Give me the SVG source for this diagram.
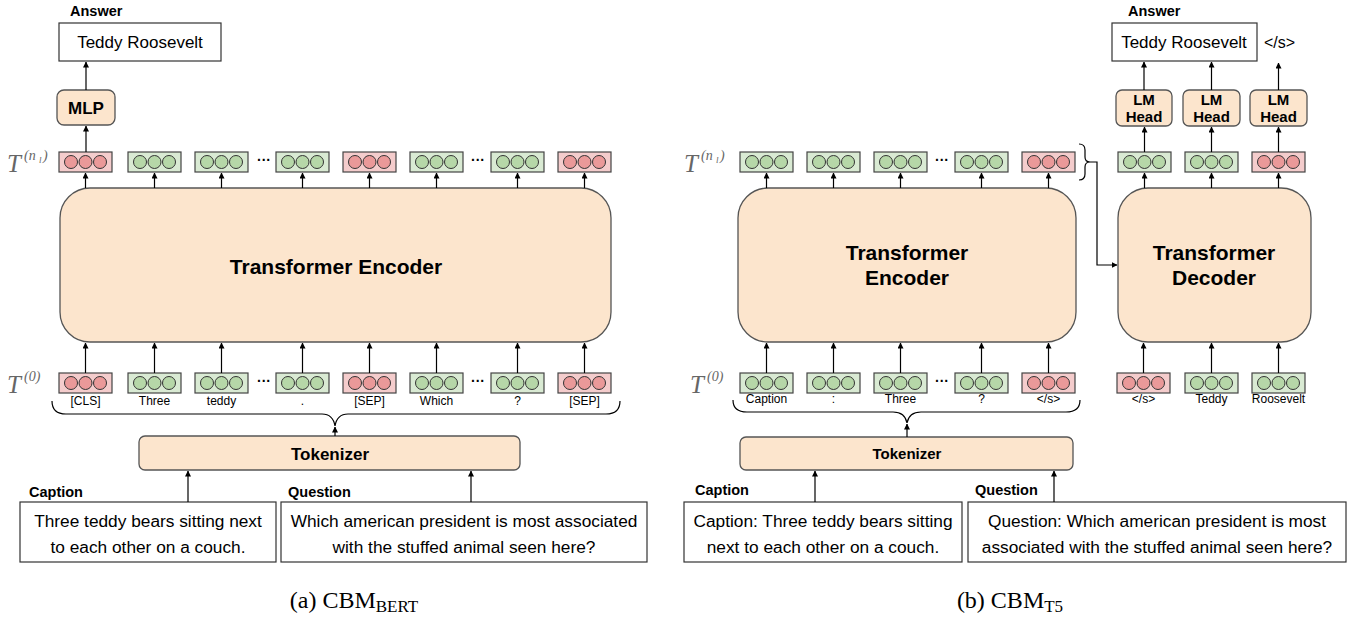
<svg xmlns="http://www.w3.org/2000/svg" width="1357" height="620" viewBox="0 0 1357 620">
<defs>
<marker id="ah" viewBox="0 0 6 6" refX="5.5" refY="3" markerWidth="6" markerHeight="6" orient="auto" markerUnits="userSpaceOnUse">
<path d="M0,0 L6,3 L0,6 z" fill="#000"/>
</marker>
<g id="tokG"><rect x="0" y="0" width="53" height="20" fill="#d9ead3" stroke="#444" stroke-width="1.2"/><circle cx="12" cy="10" r="6.5" fill="#b6d7a8" stroke="#333" stroke-width="1"/><circle cx="26.5" cy="10" r="6.5" fill="#b6d7a8" stroke="#333" stroke-width="1"/><circle cx="41" cy="10" r="6.5" fill="#b6d7a8" stroke="#333" stroke-width="1"/></g>
<g id="tokR"><rect x="0" y="0" width="53" height="20" fill="#f4cccc" stroke="#444" stroke-width="1.2"/><circle cx="12" cy="10" r="6.5" fill="#ea9999" stroke="#333" stroke-width="1"/><circle cx="26.5" cy="10" r="6.5" fill="#ea9999" stroke="#333" stroke-width="1"/><circle cx="41" cy="10" r="6.5" fill="#ea9999" stroke="#333" stroke-width="1"/></g>
</defs>
<style>
.peach{fill:#fce5cd;stroke:#555;stroke-width:1.3}
.box{fill:#fff;stroke:#333;stroke-width:1.2}
.b{font-family:"Liberation Sans",Arial,sans-serif;font-weight:bold;fill:#000}
.t{font-family:"Liberation Sans",Arial,sans-serif;fill:#000}
.m{font-family:"Liberation Serif","Times New Roman",serif;font-style:italic;fill:#666}
.cap{font-family:"Liberation Serif","Times New Roman",serif;fill:#000;font-size:24px}
.ar{stroke:#000;stroke-width:1.2;fill:none;marker-end:url(#ah)}
.ln{stroke:#000;stroke-width:1.2;fill:none}
</style>
<rect width="1357" height="620" fill="#fff"/>

<!-- ================= Left panel ================= -->
<g id="ans-label-a"><text class="b" x="70" y="16" font-size="14.5">Answer</text></g>
<g id="answer-a"><rect class="box" x="59" y="23" width="162" height="38"/><text class="t" x="140" y="48" font-size="17" text-anchor="middle">Teddy Roosevelt</text></g>
<g id="mlp"><rect class="peach" x="57" y="90" width="58" height="35" rx="7"/><text class="b" x="86" y="114" font-size="17" text-anchor="middle">MLP</text></g>

<g id="tnl-a"><text class="m" x="7" y="172" font-size="25">T</text><text class="m" x="24" y="160" font-size="14">(n</text><text class="m" x="39" y="163" font-size="9">l</text><text class="m" x="43" y="160" font-size="14">)</text></g>
<g id="top-tokens-a">
<use href="#tokR" x="59" y="152"/><use href="#tokG" x="128" y="152"/><use href="#tokG" x="195" y="152"/>
<text class="b" x="264" y="165" font-size="14" text-anchor="middle">···</text>
<use href="#tokG" x="276" y="152"/><use href="#tokR" x="343" y="152"/><use href="#tokG" x="410" y="152"/>
<text class="b" x="478" y="165" font-size="14" text-anchor="middle">···</text>
<use href="#tokG" x="491" y="152"/><use href="#tokR" x="558" y="152"/>
</g>
<g id="encoder-a"><rect class="peach" x="60" y="188" width="551" height="154" rx="30"/><text class="b" x="336" y="274" font-size="21" text-anchor="middle">Transformer Encoder</text></g>

<g id="t0-a"><text class="m" x="7" y="393" font-size="25">T</text><text class="m" x="24" y="381" font-size="14">(0)</text></g>
<g id="bot-tokens-a">
<use href="#tokR" x="59" y="373"/><use href="#tokG" x="128" y="373"/><use href="#tokG" x="195" y="373"/>
<text class="b" x="264" y="386" font-size="14" text-anchor="middle">···</text>
<use href="#tokG" x="276" y="373"/><use href="#tokR" x="343" y="373"/><use href="#tokG" x="410" y="373"/>
<text class="b" x="478" y="386" font-size="14" text-anchor="middle">···</text>
<use href="#tokG" x="491" y="373"/><use href="#tokR" x="558" y="373"/>
<g class="t" font-size="12" text-anchor="middle">
<text x="85.5" y="405">[CLS]</text><text x="154.5" y="405">Three</text><text x="221.5" y="405">teddy</text><text x="302.5" y="405">.</text><text x="369.5" y="405">[SEP]</text><text x="436.5" y="405">Which</text><text x="517.5" y="405">?</text><text x="584.5" y="405">[SEP]</text>
</g>
</g>
<g id="tokenizer-a"><rect class="peach" x="139" y="436" width="381" height="34" rx="6"/><text class="b" x="330" y="460" font-size="17" text-anchor="middle">Tokenizer</text></g>

<g id="caption-a"><text class="b" x="29" y="497" font-size="14.5">Caption</text><rect class="box" x="20" y="502" width="256" height="60"/><text class="t" x="148" y="527" font-size="17.3" text-anchor="middle">Three teddy bears sitting next</text><text class="t" x="148" y="553" font-size="17.3" text-anchor="middle">to each other on a couch.</text></g>
<g id="question-a"><text class="b" x="288" y="497" font-size="14.5">Question</text><rect class="box" x="281" y="502" width="366" height="60"/><text class="t" x="464" y="527" font-size="17.3" text-anchor="middle">Which american president is most associated</text><text class="t" x="464" y="553" font-size="17.3" text-anchor="middle">with the stuffed animal seen here?</text></g>

<text class="cap" x="354" y="608" text-anchor="middle">(a) CBM<tspan font-size="17" dy="4">BERT</tspan></text>

<!-- ================= Right panel ================= -->
<g id="ans-label-b"><text class="b" x="1128" y="16" font-size="14.5">Answer</text></g>
<g id="answer-b"><rect class="box" x="1112" y="23" width="145" height="38"/><text class="t" x="1184" y="48" font-size="17" text-anchor="middle">Teddy Roosevelt</text><text class="t" x="1264" y="48" font-size="16">&lt;/s&gt;</text></g>
<g id="lm1"><rect class="peach" x="1116" y="90" width="56" height="36" rx="6"/><text class="b" x="1144" y="105" font-size="15" text-anchor="middle">LM</text><text class="b" x="1144" y="122" font-size="15" text-anchor="middle">Head</text></g>
<g id="lm2"><rect class="peach" x="1183" y="90" width="57" height="36" rx="6"/><text class="b" x="1211.5" y="105" font-size="15" text-anchor="middle">LM</text><text class="b" x="1211.5" y="122" font-size="15" text-anchor="middle">Head</text></g>
<g id="lm3"><rect class="peach" x="1250" y="90" width="57" height="36" rx="6"/><text class="b" x="1278.5" y="105" font-size="15" text-anchor="middle">LM</text><text class="b" x="1278.5" y="122" font-size="15" text-anchor="middle">Head</text></g>

<g id="tnl-b"><text class="m" x="684" y="172" font-size="25">T</text><text class="m" x="701" y="160" font-size="14">(n</text><text class="m" x="716" y="163" font-size="9">l</text><text class="m" x="720" y="160" font-size="14">)</text></g>
<g id="top-tokens-b">
<use href="#tokG" x="740" y="152"/><use href="#tokG" x="807" y="152"/><use href="#tokG" x="874" y="152"/>
<text class="b" x="942" y="165" font-size="14" text-anchor="middle">···</text>
<use href="#tokG" x="955" y="152"/><use href="#tokR" x="1022" y="152"/>
</g>
<g id="dec-top-tokens">
<use href="#tokG" x="1118" y="152"/><use href="#tokG" x="1185" y="152"/><use href="#tokR" x="1252" y="152"/>
</g>
<g id="encoder-b"><rect class="peach" x="738" y="188" width="338" height="154" rx="30"/><text class="b" x="907" y="260" font-size="21" text-anchor="middle">Transformer</text><text class="b" x="907" y="285" font-size="21" text-anchor="middle">Encoder</text></g>
<g id="decoder-b"><rect class="peach" x="1118" y="188" width="193" height="154" rx="30"/><text class="b" x="1214" y="260" font-size="21" text-anchor="middle">Transformer</text><text class="b" x="1214" y="285" font-size="21" text-anchor="middle">Decoder</text></g>

<g id="t0-b"><text class="m" x="690" y="393" font-size="25">T</text><text class="m" x="707" y="381" font-size="14">(0)</text></g>
<g id="bot-tokens-b">
<use href="#tokG" x="740" y="373"/><use href="#tokG" x="807" y="373"/><use href="#tokG" x="874" y="373"/>
<text class="b" x="942" y="386" font-size="14" text-anchor="middle">···</text>
<use href="#tokG" x="955" y="373"/><use href="#tokR" x="1022" y="373"/>
<g class="t" font-size="12" text-anchor="middle">
<text x="766.5" y="403">Caption</text><text x="833.5" y="403">:</text><text x="900.5" y="403">Three</text><text x="981.5" y="403">?</text><text x="1048.5" y="403">&lt;/s&gt;</text>
</g>
</g>
<g id="dec-bot-tokens">
<use href="#tokR" x="1117" y="373"/><use href="#tokG" x="1185" y="373"/><use href="#tokG" x="1252" y="373"/>
<g class="t" font-size="12" text-anchor="middle">
<text x="1143.5" y="403">&lt;/s&gt;</text><text x="1211.5" y="403">Teddy</text><text x="1278.5" y="403">Roosevelt</text>
</g>
</g>
<g id="tokenizer-b"><rect class="peach" x="740" y="437" width="333" height="33" rx="6"/><text class="b" x="907" y="459" font-size="15" text-anchor="middle">Tokenizer</text></g>

<g id="caption-b"><text class="b" x="695" y="495" font-size="14.5">Caption</text><rect class="box" x="684" y="502" width="278" height="60"/><text class="t" x="823" y="527" font-size="17.3" text-anchor="middle">Caption: Three teddy bears sitting</text><text class="t" x="823" y="553" font-size="17.3" text-anchor="middle">next to each other on a couch.</text></g>
<g id="question-b"><text class="b" x="975" y="495" font-size="14.5">Question</text><rect class="box" x="968" y="502" width="378" height="60"/><text class="t" x="1157" y="527" font-size="17.3" text-anchor="middle">Question: Which american president is most</text><text class="t" x="1157" y="553" font-size="17.3" text-anchor="middle">associated with the stuffed animal seen here?</text></g>

<text class="cap" x="1010" y="608" text-anchor="middle">(b) CBM<tspan font-size="17" dy="4">T5</tspan></text>

<!-- ================= Connectors ================= -->
<g id="connectors">
<!-- left -->
<line class="ar" x1="86" y1="90" x2="86" y2="62"/>
<line class="ar" x1="86" y1="152" x2="86" y2="126"/>
<line class="ar" x1="85.5" y1="188" x2="85.5" y2="173"/>
<line class="ar" x1="154.5" y1="188" x2="154.5" y2="173"/>
<line class="ar" x1="221.5" y1="188" x2="221.5" y2="173"/>
<line class="ar" x1="302.5" y1="188" x2="302.5" y2="173"/>
<line class="ar" x1="369.5" y1="188" x2="369.5" y2="173"/>
<line class="ar" x1="436.5" y1="188" x2="436.5" y2="173"/>
<line class="ar" x1="517.5" y1="188" x2="517.5" y2="173"/>
<line class="ar" x1="584.5" y1="188" x2="584.5" y2="173"/>
<line class="ar" x1="85.5" y1="373" x2="85.5" y2="343"/>
<line class="ar" x1="154.5" y1="373" x2="154.5" y2="343"/>
<line class="ar" x1="221.5" y1="373" x2="221.5" y2="343"/>
<line class="ar" x1="302.5" y1="373" x2="302.5" y2="343"/>
<line class="ar" x1="369.5" y1="373" x2="369.5" y2="343"/>
<line class="ar" x1="436.5" y1="373" x2="436.5" y2="343"/>
<line class="ar" x1="517.5" y1="373" x2="517.5" y2="343"/>
<line class="ar" x1="584.5" y1="373" x2="584.5" y2="343"/>
<path class="ln" d="M52,401 Q52,414 66,414 L322,414 Q333,414 335,426 Q337,414 348,414 L606,414 Q620,414 620,401"/>
<line class="ar" x1="335" y1="436" x2="335" y2="427"/>
<line class="ar" x1="188" y1="502" x2="188" y2="471"/>
<line class="ar" x1="471" y1="502" x2="471" y2="471"/>
<!-- right -->
<line class="ar" x1="766.5" y1="188" x2="766.5" y2="173"/>
<line class="ar" x1="833.5" y1="188" x2="833.5" y2="173"/>
<line class="ar" x1="900.5" y1="188" x2="900.5" y2="173"/>
<line class="ar" x1="981.5" y1="188" x2="981.5" y2="173"/>
<line class="ar" x1="1048.5" y1="188" x2="1048.5" y2="173"/>
<line class="ar" x1="766.5" y1="373" x2="766.5" y2="343"/>
<line class="ar" x1="833.5" y1="373" x2="833.5" y2="343"/>
<line class="ar" x1="900.5" y1="373" x2="900.5" y2="343"/>
<line class="ar" x1="981.5" y1="373" x2="981.5" y2="343"/>
<line class="ar" x1="1048.5" y1="373" x2="1048.5" y2="343"/>
<path class="ln" d="M733,400 Q733,412 747,412 L893,412 Q905,412 907,423 Q909,412 921,412 L1066,412 Q1080,412 1080,400"/>
<line class="ar" x1="907" y1="437" x2="907" y2="424"/>
<line class="ar" x1="815" y1="502" x2="815" y2="471"/>
<line class="ar" x1="1054" y1="502" x2="1054" y2="471"/>
<!-- brace to decoder -->
<path class="ln" d="M1079,144 Q1085,144 1085,150 L1085,157 Q1085,162 1090,162 Q1085,162 1085,167 L1085,174 Q1085,180 1079,180"/>
<path class="ar" d="M1090,162 L1097,162 L1097,265 L1117,265"/>
<!-- decoder -->
<line class="ar" x1="1144.5" y1="188" x2="1144.5" y2="173"/>
<line class="ar" x1="1211.5" y1="188" x2="1211.5" y2="173"/>
<line class="ar" x1="1278.5" y1="188" x2="1278.5" y2="173"/>
<line class="ar" x1="1143.5" y1="373" x2="1143.5" y2="343"/>
<line class="ar" x1="1211.5" y1="373" x2="1211.5" y2="343"/>
<line class="ar" x1="1278.5" y1="373" x2="1278.5" y2="343"/>
<line class="ar" x1="1144.5" y1="152" x2="1144.5" y2="127"/>
<line class="ar" x1="1211.5" y1="152" x2="1211.5" y2="127"/>
<line class="ar" x1="1278.5" y1="152" x2="1278.5" y2="127"/>
<line class="ar" x1="1144" y1="90" x2="1144" y2="62"/>
<line class="ar" x1="1211.5" y1="90" x2="1211.5" y2="62"/>
<line class="ar" x1="1278.5" y1="90" x2="1278.5" y2="63"/>
</g>
</svg>
